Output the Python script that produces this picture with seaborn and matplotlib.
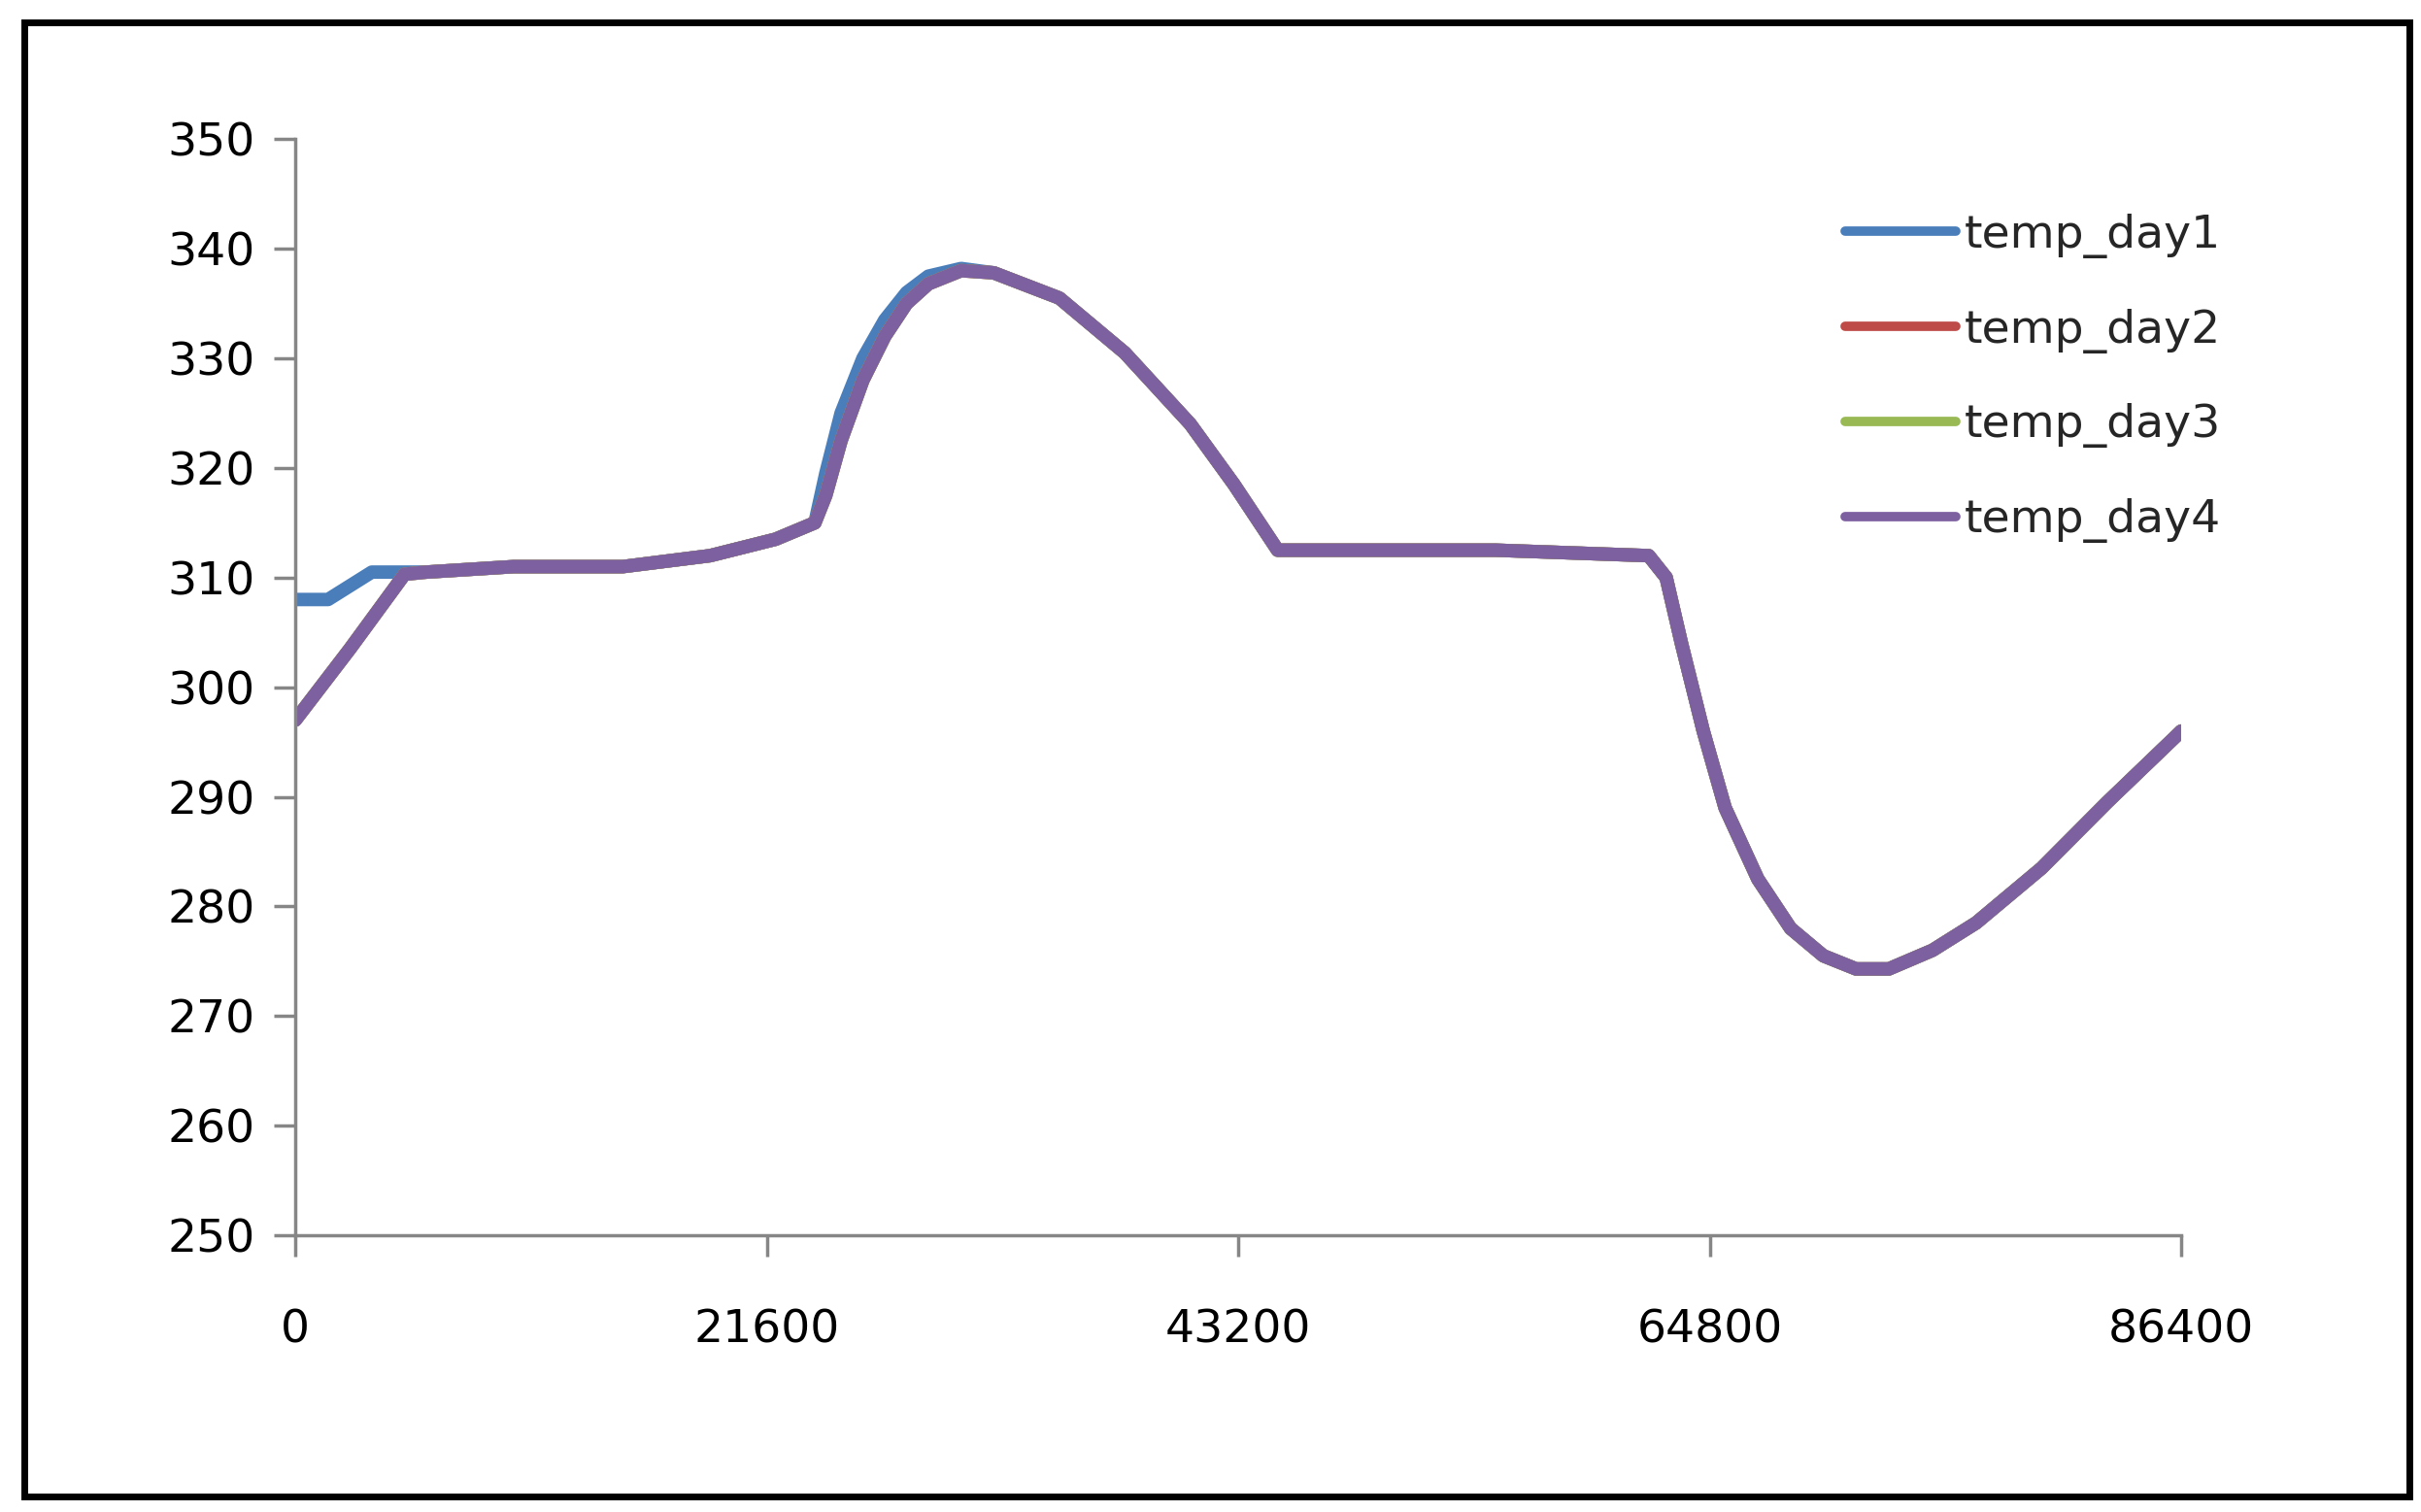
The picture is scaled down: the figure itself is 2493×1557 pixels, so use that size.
import numpy as np
import pandas as pd
import matplotlib
matplotlib.use("Agg")
import matplotlib.pyplot as plt
import seaborn as sns

sns.set_style("white")

# values
time_day1 = [0, 1500, 3500, 6000, 10000, 15000, 19000, 22000, 23800, 24300, 25000, 26000, 27000, 28000,
             29000, 30500, 32000, 35000, 38000, 41000, 43000, 45000, 55000, 62000, 62800, 63500, 64500,
             65500, 67000, 68500, 70000, 71500, 73000, 75000, 77000, 80000, 83000, 86400]
temp_day1 = [308, 308, 310.5, 310.5, 311, 311, 312, 313.5, 315, 319.5, 325, 330, 333.5, 336,
             337.5, 338.2, 337.8, 335.5, 330.5, 324, 318.5, 312.5, 312.5, 312, 310, 304, 296,
             289, 282.5, 278, 275.5, 274.3, 274.3, 276, 278.5, 283.5, 289.5, 296]

time_day4 = [0, 2500, 5000, 6000, 10000, 15000, 19000, 22000, 23800, 24300, 25000, 26000, 27000, 28000,
             29000, 30500, 32000, 35000, 38000, 41000, 43000, 45000, 55000, 62000, 62800, 63500, 64500,
             65500, 67000, 68500, 70000, 71500, 73000, 75000, 77000, 80000, 83000, 86400]
temp_day4 = [297, 303.5, 310.3, 310.5, 311, 311, 312, 313.5, 315, 317.5, 322.5, 328, 332, 335,
             336.8, 338, 337.8, 335.5, 330.5, 324, 318.5, 312.5, 312.5, 312, 310, 304, 296,
             289, 282.5, 278, 275.5, 274.3, 274.3, 276, 278.5, 283.5, 289.5, 296]

series_names = ["temp_day1", "temp_day2", "temp_day3", "temp_day4"]
colors = ["#4A7EBB", "#BE4B48", "#98B954", "#7D60A0"]

frames = [pd.DataFrame({"time": time_day1, "temp": temp_day1, "series": "temp_day1"})]
for name in series_names[1:]:
    frames.append(pd.DataFrame({"time": time_day4, "temp": temp_day4, "series": name}))
df = pd.concat(frames)

fig = plt.figure(figsize=(24.93, 15.57), dpi=100)
ax = fig.add_axes([0.122, 0.183, 0.779, 0.725])
sns.lineplot(data=df, x="time", y="temp", hue="series", palette=colors,
             linewidth=10, ax=ax, sort=False)

ax.set_xlim(0, 86400)
ax.set_ylim(250, 350)
ax.set_xticks([0, 21600, 43200, 64800, 86400])
ax.set_yticks(range(250, 351, 10))
ax.set_xlabel("")
ax.set_ylabel("")
for s in ["top", "right"]:
    ax.spines[s].set_visible(False)
for s in ["left", "bottom"]:
    ax.spines[s].set_color("#868686")
    ax.spines[s].set_linewidth(2.5)
ax.tick_params(axis="both", direction="out", length=16, width=2.5, color="#868686",
               labelsize=34, pad=14, bottom=True, left=True, labelcolor="black")
ax.tick_params(axis="x", pad=38)

leg = ax.legend(loc="upper left", bbox_to_anchor=(0.8, 0.97), frameon=False,
                fontsize=34, handlelength=2.4, labelspacing=1.1, handletextpad=0.2)
for line in leg.get_lines():
    line.set_linewidth(7)

fig.patches.append(plt.Rectangle((0.01, 0.01), 0.985, 0.975, transform=fig.transFigure,
                                 fill=False, edgecolor="black", linewidth=5))
fig.savefig("out.png", dpi=100)
